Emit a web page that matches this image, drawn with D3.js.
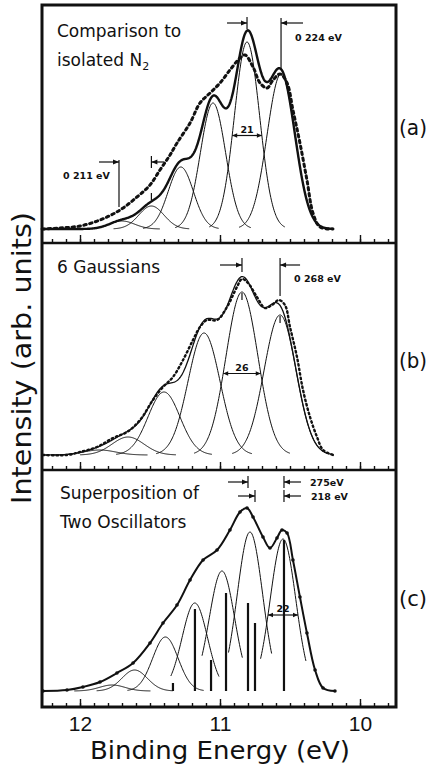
<!DOCTYPE html>
<html>
<head>
<meta charset="utf-8">
<title>N2 valence band - Gaussian fits</title>
<script src="https://d3js.org/d3.v7.min.js"></script>
<style>
  body { margin: 0; background: #fff; }
  svg { display: block; font-family: "DejaVu Sans", sans-serif; }
  .frame { fill: none; stroke: #111; stroke-width: 3; }
  .sep { stroke: #111; stroke-width: 2.5; }
  .axis path { display: none; }
  .axis line { stroke: #111; stroke-width: 1.4; }
  .axis text { font-size: 21px; fill: #111; }
  .comp { fill: none; stroke: #111; stroke-width: 1; }
  .sum { fill: none; stroke: #111; }
  .data { fill: none; stroke: #111; stroke-linecap: round; }
  .ann { stroke: #111; stroke-width: 1.2; fill: none; }
  .head { fill: #111; stroke: none; }
  .small { font-size: 9.5px; font-weight: bold; fill: #111; }
  .title { font-size: 17px; fill: #111; }
</style>
</head>
<body>
<svg id="chart" width="430" height="771"></svg>
<script>
// binding energy in eV, intensity in arbitrary units
const majorTicks = [12, 11, 10];
const minorTicks = d3.range(98, 123).map(d => d / 10);

// (a) comparison to isolated N2
const aCenters = [10.564, 10.807, 11.05, 11.28, 11.49, 11.70];
const aHeights = [155, 187, 126, 62, 23, 8];
const aSigmas  = [0.1, 0.09, 0.09, 0.09, 0.09, 0.09];
const aDataE = [12.271, 12.143, 12.0, 11.857, 11.714, 11.593, 11.5, 11.429, 11.357, 11.307,
                11.214, 11.143, 11.071, 11.0, 10.929, 10.857, 10.821, 10.764, 10.714, 10.664,
                10.621, 10.571, 10.521, 10.479, 10.429, 10.379, 10.336, 10.286, 10.193];
const aDataI = [0, 1, 3, 9, 19, 32, 44, 59, 74, 86,
                106, 126, 136, 146, 159, 171, 174, 162, 146, 141,
                149, 155, 146, 119, 86, 49, 16, 2, 0];

// (b) 6 Gaussians
const bCenters = [10.571, 10.843, 11.114, 11.40, 11.657, 11.86];
const bHeights = [140, 163, 122, 63, 18, 5];
const bSigmas  = [0.114, 0.114, 0.114, 0.114, 0.114, 0.114];
const bDataE = [12.264, 12.093, 12.0, 11.879, 11.764, 11.664, 11.571, 11.479, 11.407, 11.336,
                11.264, 11.193, 11.143, 11.093, 11.021, 10.95, 10.879, 10.843, 10.8, 10.736,
                10.679, 10.629, 10.579, 10.536, 10.5, 10.45, 10.407, 10.357, 10.307, 10.264, 10.193];
const bDataI = [0, 0, 3, 8, 17, 23, 35, 55, 68, 78,
                95, 115, 128, 135, 135, 148, 168, 176, 172, 158,
                147, 150, 155, 150, 128, 98, 65, 38, 18, 5, 0];

// (c) superposition of two oscillators
const cCenters = [10.55, 10.786, 10.986, 11.18, 11.39, 11.61, 11.77];
const cHeights = [152, 159, 120, 88, 54, 21, 6];
const cSigmas  = [0.091, 0.091, 0.091, 0.091, 0.091, 0.091, 0.091];
const cStickE = [10.543, 10.80, 10.75, 10.957, 11.064, 11.179, 11.336];
const cStickI = [151, 88, 68, 98, 31, 82, 8];
const cDataE = [12.264, 12.093, 11.979, 11.857, 11.736, 11.621, 11.5, 11.407, 11.307, 11.214,
                11.121, 11.021, 10.929, 10.857, 10.807, 10.764, 10.693, 10.643, 10.593, 10.557,
                10.521, 10.479, 10.429, 10.379, 10.321, 10.264, 10.179];
const cDataI = [0, 1, 4, 9, 18, 28, 48, 68, 86, 111,
                131, 141, 161, 179, 183, 174, 154, 143, 153, 161,
                158, 131, 94, 58, 21, 3, 0];

const svg = d3.select('#chart');
const frameL = 42, frameR = 396, frameT = 5, frameB = 707;
const panelBottoms = [243, 470, 707];
const baselines = [229, 455, 691];

const x = d3.scaleLinear().domain([12, 10]).range([80, 360]);

function gauss(c, h, s) {
  return e => h * Math.exp(-((e - c) * (e - c)) / (2 * s * s));
}

function panelY(i) {
  return d3.scaleLinear().domain([0, 200]).range([baselines[i], baselines[i] - 200]);
}

function drawComponents(g, y, centers, heights, sigmas, cut) {
  centers.forEach((c, i) => {
    const f = gauss(c, heights[i], sigmas[i]);
    const k = cut ? cut[i] : 3;
    const grid = d3.range(c - k * sigmas[i], c + k * sigmas[i] + 1e-6, 0.004);
    g.append('path').attr('class', 'comp')
      .attr('d', d3.line().x(e => x(e)).y(e => y(f(e)))(grid));
  });
}

function sumPath(y, centers, heights, sigmas, e0, e1) {
  const fs = centers.map((c, i) => gauss(c, heights[i], sigmas[i]));
  const grid = d3.range(e0, e1, -0.004);
  return d3.line().x(e => x(e)).y(e => y(d3.sum(fs, f => f(e))))(grid);
}

function dataPath(y, es, is) {
  return d3.line().curve(d3.curveCatmullRom)
    .x((e, i) => x(e)).y((e, i) => y(is[i]))(es);
}

// arrow coming from one side to a tip at xt; dir +1 means pointing right
function arrowTo(g, xt, yy, dir, len) {
  g.append('line').attr('class', 'ann')
    .attr('x1', xt - dir * len).attr('x2', xt).attr('y1', yy).attr('y2', yy);
  g.append('path').attr('class', 'head')
    .attr('d', `M${xt},${yy} l${-dir * 6},-2.6 l0,5.2 Z`);
}

function vbar(g, xx, y0, y1, w) {
  g.append('line').attr('class', 'ann').attr('stroke-width', w || 1.2)
    .attr('x1', xx).attr('x2', xx).attr('y1', y0).attr('y2', y1);
}

// width marker across a peak at half maximum
function fwhm(g, y, c, h, s, label) {
  const hw = 1.1774 * s;
  const yy = y(h / 2);
  const x0 = x(c + hw), x1 = x(c - hw);
  g.append('line').attr('class', 'ann').attr('x1', x0).attr('x2', x1).attr('y1', yy).attr('y2', yy);
  g.append('path').attr('class', 'head').attr('d', `M${x0},${yy} l5,-2.3 l0,4.6 Z`);
  g.append('path').attr('class', 'head').attr('d', `M${x1},${yy} l-5,-2.3 l0,4.6 Z`);
  g.append('text').attr('class', 'small').attr('font-size', '11px').attr('text-anchor', 'middle')
    .attr('x', (x0 + x1) / 2).attr('y', yy - 3).text(label);
}

// ticks on the bottom of each panel
panelBottoms.forEach((pb, i) => {
  svg.append('g').attr('class', 'axis')
    .attr('transform', `translate(0,${pb})`)
    .call(d3.axisBottom(x).tickValues(minorTicks).tickSize(-4).tickFormat(''));
  svg.append('g').attr('class', 'axis')
    .attr('transform', `translate(0,${pb})`)
    .call(d3.axisBottom(x).tickValues(majorTicks).tickSize(-8).tickPadding(9)
      .tickFormat(i === 2 ? d3.format('d') : ''));
});

// ---- panel (a)
const ya = panelY(0);
const ga = svg.append('g');
drawComponents(ga, ya, aCenters, aHeights, aSigmas);
ga.append('path').attr('class', 'sum').attr('stroke-width', 2.4)
  .attr('d', sumPath(ya, aCenters, aHeights, aSigmas, 12.27, 10.19));
ga.append('path').attr('class', 'data').attr('stroke-width', 3)
  .attr('stroke-dasharray', '2.5,3.5')
  .attr('d', dataPath(ya, aDataE, aDataI));
fwhm(ga, ya, aCenters[1], aHeights[1], aSigmas[1], '21');
arrowTo(ga, x(aCenters[1]), 23, 1, 20);
vbar(ga, x(aCenters[1]), 17, 29);
vbar(ga, x(aCenters[0]), 18, ya(aHeights[0] + 5));
arrowTo(ga, x(aCenters[0]), 23, -1, 22);
ga.append('text').attr('class', 'small').attr('x', 295).attr('y', 41).text('0 224 eV');
vbar(ga, x(aCenters[5]) - 3, 160, ya(aHeights[5] + 14));
arrowTo(ga, x(aCenters[5]) - 3, 162, 1, 20);
vbar(ga, x(aCenters[4]), 156, 168);
arrowTo(ga, x(aCenters[4]), 162, -1, 13);
vbar(ga, x(aCenters[4]), ya(aHeights[4] + 13), ya(aHeights[4] + 6));
ga.append('text').attr('class', 'small').attr('x', 63).attr('y', 179).text('0 211 eV');
ga.append('text').attr('class', 'title').attr('x', 57).attr('y', 37).text('Comparison to');
const tb2 = ga.append('text').attr('class', 'title').attr('x', 57).attr('y', 66);
tb2.append('tspan').text('isolated N');
tb2.append('tspan').attr('font-size', '11px').attr('dy', 4).text('2');

// ---- panel (b)
const yb = panelY(1);
const gb = svg.append('g');
drawComponents(gb, yb, bCenters, bHeights, bSigmas);
gb.append('path').attr('class', 'sum').attr('stroke-width', 1.3)
  .attr('d', sumPath(yb, bCenters, bHeights, bSigmas, 12.27, 10.19));
gb.append('path').attr('class', 'data').attr('stroke-width', 2.4)
  .attr('stroke-dasharray', '1.5,3')
  .attr('d', dataPath(yb, bDataE, bDataI));
fwhm(gb, yb, bCenters[1], bHeights[1], bSigmas[1], '26');
arrowTo(gb, x(bCenters[1]), 265, 1, 22);
vbar(gb, x(bCenters[1]), 258, 272);
vbar(gb, x(bCenters[1]), yb(bHeights[1]) + 1, yb(bHeights[1]) + 8);
vbar(gb, x(bCenters[0]), 258, yb(bHeights[0] + 19));
arrowTo(gb, x(bCenters[0]), 265, -1, 20);
vbar(gb, x(bCenters[0]), yb(bHeights[0]) + 1, yb(bHeights[0]) + 8);
gb.append('text').attr('class', 'small').attr('x', 294).attr('y', 282).text('0 268 eV');
gb.append('text').attr('class', 'title').attr('x', 57).attr('y', 273).text('6 Gaussians');

// ---- panel (c)
const yc = panelY(2);
const gc = svg.append('g');
drawComponents(gc, yc, cCenters, cHeights, cSigmas, [1.8, 1.7, 1.6, 1.9, 3, 3, 3]);
gc.selectAll('line.stick').data(cStickE).join('line').attr('class', 'stick')
  .attr('stroke', '#111').attr('stroke-width', 2.2)
  .attr('x1', d => x(d)).attr('x2', d => x(d))
  .attr('y1', yc(0)).attr('y2', (d, i) => yc(cStickI[i]));
gc.append('path').attr('class', 'data').attr('stroke-width', 2)
  .attr('d', dataPath(yc, cDataE, cDataI));
gc.selectAll('circle').data(cDataE).join('circle')
  .attr('cx', d => x(d)).attr('cy', (d, i) => yc(cDataI[i])).attr('r', 1.8).attr('fill', '#111');
fwhm(gc, yc, cCenters[0], cHeights[0], cSigmas[0], '22');
arrowTo(gc, x(cStickE[1]), 482, 1, 20);
vbar(gc, x(cStickE[1]), 476, 488);
arrowTo(gc, x(cStickE[2]), 496, 1, 17);
vbar(gc, x(cStickE[2]), 490, 502);
vbar(gc, x(cStickE[0]), 476, 488);
arrowTo(gc, x(cStickE[0]), 482, -1, 17);
vbar(gc, x(cStickE[0]), 490, 502);
arrowTo(gc, x(cStickE[0]), 496, -1, 17);
gc.append('text').attr('class', 'small').attr('x', 310).attr('y', 486).text('275eV');
gc.append('text').attr('class', 'small').attr('x', 311).attr('y', 500).text('218 eV');
gc.append('text').attr('class', 'title').attr('x', 60).attr('y', 499).text('Superposition of');
gc.append('text').attr('class', 'title').attr('x', 60).attr('y', 528).text('Two Oscillators');

// frame and panel separators
svg.append('rect').attr('class', 'frame')
  .attr('x', frameL).attr('y', frameT).attr('width', frameR - frameL).attr('height', frameB - frameT);
panelBottoms.slice(0, 2).forEach(pb => {
  svg.append('line').attr('class', 'sep').attr('x1', frameL).attr('x2', frameR).attr('y1', pb).attr('y2', pb);
});

// panel letters
const letters = ['(a)', '(b)', '(c)'];
const letterY = [135, 368, 606];
letters.forEach((t, i) => {
  svg.append('text').attr('x', 399).attr('y', letterY[i]).attr('font-size', 21)
    .attr('textLength', 28).attr('lengthAdjust', 'spacingAndGlyphs')
    .attr('fill', '#111').text(t);
});

// axis titles
svg.append('text').attr('text-anchor', 'middle').attr('font-size', 25).attr('fill', '#111')
  .attr('x', 220).attr('y', 759).attr('textLength', 260).attr('lengthAdjust', 'spacingAndGlyphs')
  .text('Binding  Energy (eV)');
svg.append('text').attr('text-anchor', 'middle').attr('font-size', 26).attr('fill', '#111')
  .attr('transform', 'translate(31,358) rotate(-90)')
  .attr('textLength', 292).attr('lengthAdjust', 'spacingAndGlyphs')
  .text('Intensity (arb. units)');
</script>
</body>
</html>
